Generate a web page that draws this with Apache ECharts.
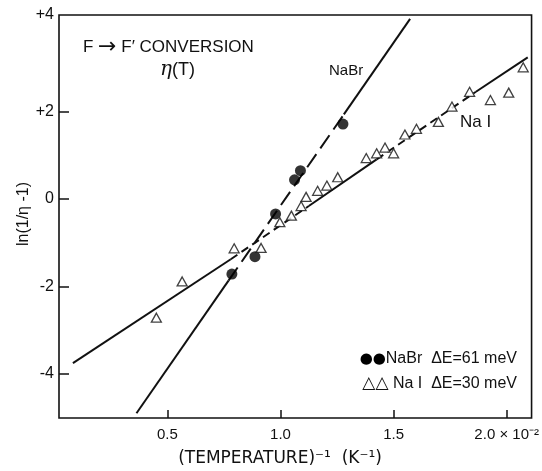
<!DOCTYPE html>
<html><head><meta charset="utf-8">
<script src="https://cdn.jsdelivr.net/npm/echarts@6/dist/echarts.min.js"></script>
<style>html,body{margin:0;padding:0;background:#fff}#c{width:542px;height:471px}</style>
</head><body><div id="c"></div>
<script>
// ---- data ----
const xTickValues = [0.5, 1.0, 1.5, 2.0];
const xTickLabels = ['0.5', '1.0', '1.5', '2.0 × 10⁻²'];
const yTickValues = [-4, -2, 0, 2];
const yTickLabels = ['-4', '-2', '0', '+2'];
const yTopLabel = '+4';
const xRange = [0.0205, 2.110];
const yRange = [-5.02, 4.22];

const nabrX = [0.785, 0.887, 0.978, 1.062, 1.088, 1.276];
const nabrY = [-1.72, -1.32, -0.34, 0.44, 0.65, 1.72];

const naiX = [0.451, 0.565, 0.795, 0.914, 0.997, 1.048, 1.091, 1.113, 1.164, 1.205, 1.253,
              1.379, 1.425, 1.462, 1.500, 1.550, 1.601, 1.698, 1.758, 1.836, 1.928, 2.009, 2.073];
const naiY = [-2.72, -1.89, -1.13, -1.12, -0.53, -0.38, -0.16, 0.05, 0.19, 0.31, 0.50,
              0.94, 1.05, 1.18, 1.05, 1.48, 1.61, 1.77, 2.12, 2.46, 2.27, 2.44, 3.02];

// fitted lines (breakpoints), drawn alternately solid / dashed
const nabrLineX = [0.363, 0.77, 1.28, 1.573];
const nabrLineY = [-4.91, -1.87, 1.94, 4.13];
const naiLineX = [0.082, 0.78, 1.125, 1.425, 1.864, 2.093];
const naiLineY = [-3.76, -1.38, -0.16, 0.91, 2.46, 3.25];

// ---- chart ----
const FONT = 'Liberation Sans, Arial, sans-serif';
function segSeries(xs, ys, dash) {
  const out = [];
  for (let i = 0; i < xs.length - 1; i++) {
    out.push({
      type: 'line', symbol: 'none', silent: true, z: 2,
      data: [[xs[i], ys[i]], [xs[i + 1], ys[i + 1]]],
      lineStyle: { color: '#111', width: 2, type: (i % 2 === 0) ? 'solid' : dash }
    });
  }
  return out;
}
const series = [].concat(
  segSeries(nabrLineX, nabrLineY, [16, 7]),
  segSeries(naiLineX, naiLineY, [8, 5]),
  [{
    type: 'scatter', name: 'NaBr', z: 5, symbol: 'circle', symbolSize: 11,
    itemStyle: { color: '#000', borderColor: '#000', borderWidth: 0 },
    data: nabrX.map((x, i) => [x, nabrY[i]])
  }, {
    type: 'scatter', name: 'NaI', z: 5, symbol: 'triangle', symbolSize: [10, 9],
    itemStyle: { color: '#fff', borderColor: '#111', borderWidth: 1.3 },
    data: naiX.map((x, i) => [x, naiY[i]])
  }]
);

const chart = echarts.init(document.getElementById('c'), null, { renderer: 'canvas' });
chart.setOption({
  animation: false,
  backgroundColor: '#fff',
  grid: { left: 59, right: 8, top: 15, bottom: 53, show: true, borderColor: '#111', borderWidth: 1.6, backgroundColor: 'transparent' },
  xAxis: {
    type: 'value', min: xRange[0], max: xRange[1],
    splitLine: { show: false },
    axisLine: { show: false, onZero: false },
    axisTick: { show: true, inside: true, length: 8, customValues: xTickValues, lineStyle: { color: '#111', width: 1.5 } },
    axisLabel: {
      customValues: xTickValues, margin: 9, color: '#111', fontSize: 15, fontFamily: FONT,
      formatter: v => xTickLabels[xTickValues.findIndex(t => Math.abs(t - v) < 1e-6)] || ''
    }
  },
  yAxis: {
    type: 'value', min: yRange[0], max: yRange[1],
    splitLine: { show: false },
    axisLine: { show: false, onZero: false },
    axisTick: { show: true, inside: true, length: 10, customValues: yTickValues, lineStyle: { color: '#111', width: 1.5 } },
    axisLabel: {
      customValues: yTickValues.concat([yRange[1]]), margin: 5, color: '#111', fontSize: 16, fontFamily: FONT,
      formatter: v => {
        const i = yTickValues.findIndex(t => Math.abs(t - v) < 1e-6);
        return i >= 0 ? yTickLabels[i] : yTopLabel;
      }
    }
  },
  graphic: [
    { type: 'text', left: 83, top: 36, style: { text: 'F {a|→} F′ CONVERSION', fontSize: 17, fontFamily: FONT, fill: '#111',
        rich: { a: { fontSize: 22, fontFamily: 'DejaVu Sans, sans-serif', fill: '#111' } } } },
    { type: 'text', left: 160, top: 60, style: { text: '{i|η}(T)', fontSize: 18, fontFamily: FONT, fill: '#111',
        rich: { i: { fontStyle: 'italic', fontSize: 20, fontFamily: 'DejaVu Serif, serif', fill: '#111' } } } },
    { type: 'text', left: 329, top: 63, style: { text: 'NaBr', fontSize: 15, fontFamily: FONT, fill: '#111' } },
    { type: 'text', left: 460, top: 114, style: { text: 'Na I', fontSize: 17, fontFamily: FONT, fill: '#111' } },
    { type: 'text', right: 25, top: 351, style: { text: '{b|●●}NaBr  ΔE=61 meV', fontSize: 16, fontFamily: FONT, fill: '#111',
        rich: { b: { fontSize: 15, fontFamily: 'DejaVu Sans, sans-serif', fill: '#000' } } } },
    { type: 'text', right: 25, top: 375, style: { text: '{b|△△} Na I  ΔE=30 meV', fontSize: 16, fontFamily: FONT, fill: '#111',
        rich: { b: { fontSize: 17, fontFamily: 'DejaVu Sans, sans-serif', fill: '#111' } } } },
    { type: 'text', x: 280, y: 459, style: { text: '(TEMPERATURE)⁻¹  (K⁻¹)', align: 'center', verticalAlign: 'middle', fontSize: 17, fontFamily: 'DejaVu Sans, sans-serif', fill: '#111' } },
    { type: 'text', x: 24, y: 214, rotation: Math.PI / 2, style: { text: 'ln(1/η -1)', align: 'center', verticalAlign: 'middle', fontSize: 16, fontFamily: FONT, fill: '#111' } }
  ],
  series: series
});
</script></body></html>
